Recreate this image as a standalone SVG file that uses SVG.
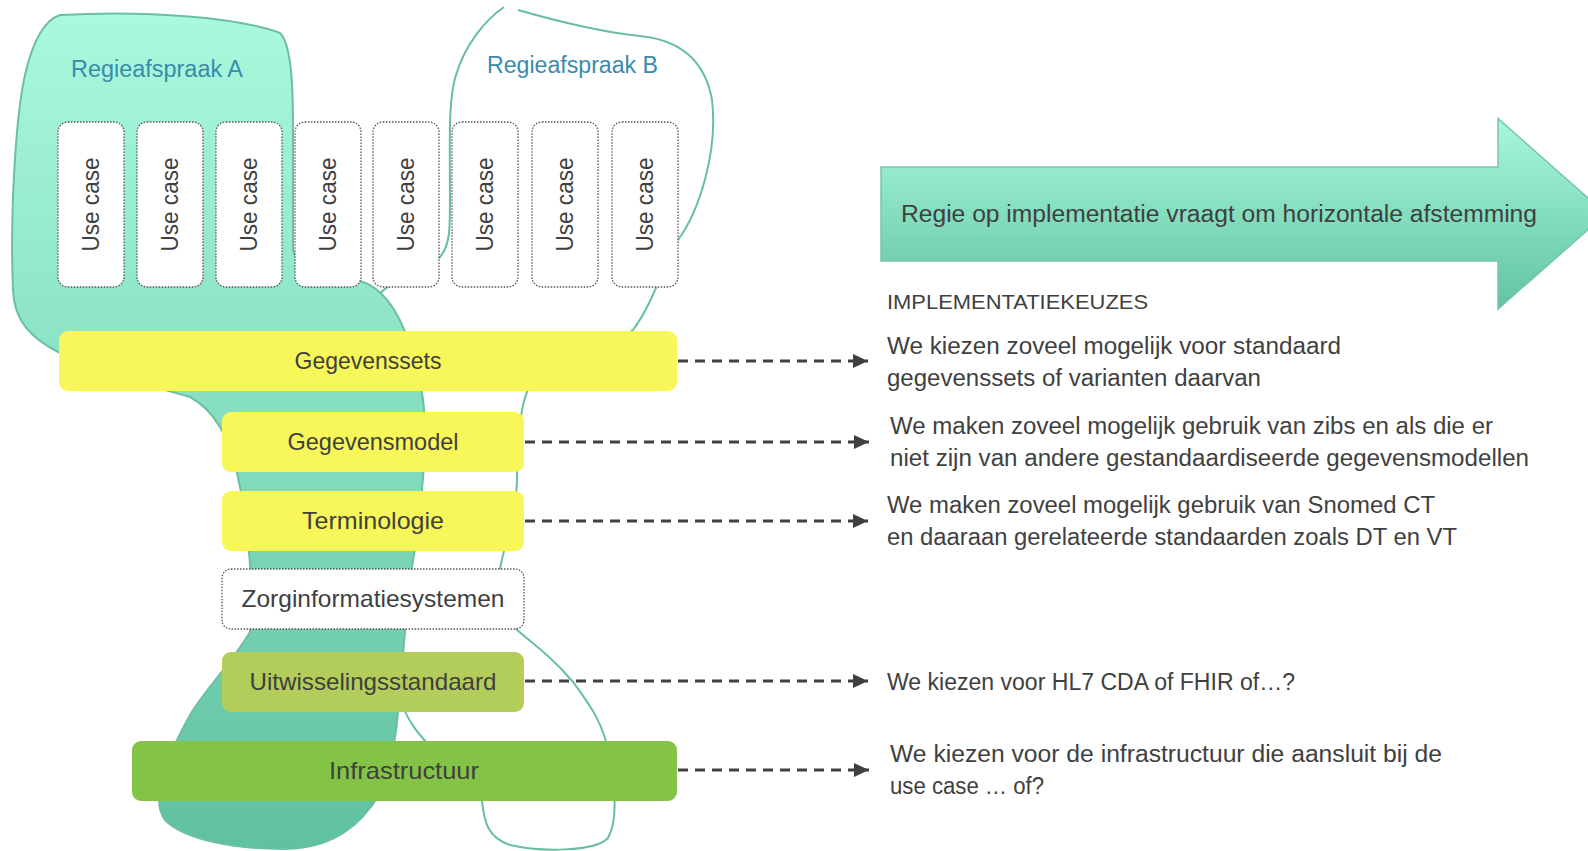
<svg xmlns="http://www.w3.org/2000/svg" width="1588" height="851" viewBox="0 0 1588 851">
<defs>
<linearGradient id="gA" x1="0" y1="15" x2="0" y2="850" gradientUnits="userSpaceOnUse">
<stop offset="0" stop-color="#aaf9dd"/>
<stop offset="1" stop-color="#5fc1a1"/>
</linearGradient>
<linearGradient id="gArrow" x1="0" y1="118" x2="0" y2="309" gradientUnits="userSpaceOnUse">
<stop offset="0" stop-color="#a8f8dc"/>
<stop offset="1" stop-color="#62c3a3"/>
</linearGradient>
<marker id="ah" markerUnits="userSpaceOnUse" markerWidth="16" markerHeight="16" refX="15" refY="8" orient="auto">
<path d="M0,1 L15,8 L0,15 Z" fill="#404040"/>
</marker>
<style>
text{font-family:"Liberation Sans",Arial,sans-serif;fill:#404040}
.uc rect{fill:#fff;stroke:#555;stroke-width:1.3;stroke-dasharray:1.5 1.5}
.uc text{font-size:23px;text-anchor:middle}
.bar text{font-size:24px;text-anchor:middle}
.title{fill:#3a8bac;font-size:23px}
.desc{font-size:23px}
.conn line{stroke:#404040;stroke-width:3;stroke-dasharray:10 7;marker-end:url(#ah)}
</style>
</defs>
<rect width="1588" height="851" fill="#fff"/>

<g id="regie-b">
<path d="M518,10 C560,22 600,32 640,36 C680,40 705,60 712,100 C718,150 700,210 678,240 C665,260 655,300 633,330 C590,360 530,370 527,392 C520,410 517,440 517,480 C516,520 505,540 500,569 C495,600 505,620 517,630 C535,645 555,660 573,682 C590,705 605,725 610,760 C615,790 618,820 608,838 C595,852 540,852 510,845 C480,835 485,810 480,790 C470,770 440,755 427,743 C415,730 408,720 400,700 C390,600 380,400 378,296 C383,288 395,282 410,276 C425,270 435,262 440,257 C450,245 450,230 450,200 C450,140 448,100 456,75 C465,45 485,20 504,7" fill="none" stroke="#68bfa0" stroke-width="2"/>
<text class="title" x="487" y="73" textLength="171" lengthAdjust="spacingAndGlyphs">Regieafspraak B</text>
</g>

<g id="regie-a">
<path d="M60,15 C150,10 240,18 280,33 C292,45 293,90 293,130 L293,250 C300,272 330,280 360,281 C385,288 400,315 410,345 C422,380 426,410 425,440 C424,480 418,530 412,567 C407,610 402,660 398,712 C395,750 385,790 370,808 C350,835 320,849 285,849 C235,849 185,840 165,820 C150,800 165,760 190,715 C205,690 230,665 250,632 C255,600 248,520 237,473 C230,440 215,410 190,397 C160,388 110,378 60,353 C30,338 14,320 13,290 C10,220 15,120 25,75 C33,40 45,20 60,15 Z" fill="url(#gA)" stroke="#6cbfa0" stroke-width="2"/>
<text class="title" x="71" y="77" textLength="172" lengthAdjust="spacingAndGlyphs">Regieafspraak A</text>
</g>

<g id="usecases" class="uc">
<g id="uc1"><rect x="58" y="122" width="66" height="165" rx="10"/><text transform="translate(91,204.5) rotate(-90)" x="0" y="8" textLength="94" lengthAdjust="spacingAndGlyphs">Use case</text></g>
<g id="uc2"><rect x="137" y="122" width="66" height="165" rx="10"/><text transform="translate(170,204.5) rotate(-90)" x="0" y="8" textLength="94" lengthAdjust="spacingAndGlyphs">Use case</text></g>
<g id="uc3"><rect x="216" y="122" width="66" height="165" rx="10"/><text transform="translate(249,204.5) rotate(-90)" x="0" y="8" textLength="94" lengthAdjust="spacingAndGlyphs">Use case</text></g>
<g id="uc4"><rect x="295" y="122" width="66" height="165" rx="10"/><text transform="translate(328,204.5) rotate(-90)" x="0" y="8" textLength="94" lengthAdjust="spacingAndGlyphs">Use case</text></g>
<g id="uc5"><rect x="373" y="122" width="66" height="165" rx="10"/><text transform="translate(406,204.5) rotate(-90)" x="0" y="8" textLength="94" lengthAdjust="spacingAndGlyphs">Use case</text></g>
<g id="uc6"><rect x="452" y="122" width="66" height="165" rx="10"/><text transform="translate(485,204.5) rotate(-90)" x="0" y="8" textLength="94" lengthAdjust="spacingAndGlyphs">Use case</text></g>
<g id="uc7"><rect x="532" y="122" width="66" height="165" rx="10"/><text transform="translate(565,204.5) rotate(-90)" x="0" y="8" textLength="94" lengthAdjust="spacingAndGlyphs">Use case</text></g>
<g id="uc8"><rect x="612" y="122" width="66" height="165" rx="10"/><text transform="translate(645,204.5) rotate(-90)" x="0" y="8" textLength="94" lengthAdjust="spacingAndGlyphs">Use case</text></g>
</g>

<g id="gegevenssets" class="bar"><rect x="59" y="331" width="618" height="60" rx="9" fill="#f8f75a"/><text x="368" y="369" textLength="147" lengthAdjust="spacingAndGlyphs">Gegevenssets</text></g>
<g id="gegevensmodel" class="bar"><rect x="222" y="412" width="302" height="60" rx="9" fill="#f8f75a"/><text x="373" y="450" textLength="171" lengthAdjust="spacingAndGlyphs">Gegevensmodel</text></g>
<g id="terminologie" class="bar"><rect x="222" y="491" width="302" height="60" rx="9" fill="#f8f75a"/><text x="373" y="529" textLength="142" lengthAdjust="spacingAndGlyphs">Terminologie</text></g>
<g id="zorginformatiesystemen" class="bar"><rect x="222" y="569" width="302" height="60" rx="9" fill="#fff" stroke="#555" stroke-width="1.3" stroke-dasharray="1.5 1.5"/><text x="373" y="607" textLength="263" lengthAdjust="spacingAndGlyphs">Zorginformatiesystemen</text></g>
<g id="uitwisselingsstandaard" class="bar"><rect x="222" y="652" width="302" height="60" rx="9" fill="#b2cd59"/><text x="373" y="690" textLength="247" lengthAdjust="spacingAndGlyphs">Uitwisselingsstandaard</text></g>
<g id="infrastructuur" class="bar"><rect x="132" y="741" width="545" height="60" rx="9" fill="#83c447"/><text x="404" y="779" textLength="150" lengthAdjust="spacingAndGlyphs">Infrastructuur</text></g>

<g id="horizontal-arrow">
<polygon points="881,167 1498,167 1498,118.5 1606,214 1498,309 1498,261 881,261" fill="url(#gArrow)" stroke="#78c6aa" stroke-width="1.5"/>
<text x="901" y="222" font-size="23" textLength="636" lengthAdjust="spacingAndGlyphs">Regie op implementatie vraagt om horizontale afstemming</text>
</g>

<g id="connectors" class="conn">
<line x1="678" y1="361" x2="868" y2="361"/>
<line x1="525" y1="442" x2="869" y2="442"/>
<line x1="525" y1="521" x2="868" y2="521"/>
<line x1="525" y1="681" x2="868" y2="681"/>
<line x1="678" y1="770" x2="869" y2="770"/>
</g>

<g id="keuzes">
<text x="887" y="309" font-size="21" textLength="261" lengthAdjust="spacingAndGlyphs">IMPLEMENTATIEKEUZES</text>
<text class="desc" x="887" y="354" textLength="454" lengthAdjust="spacingAndGlyphs">We kiezen zoveel mogelijk voor standaard</text>
<text class="desc" x="887" y="386" textLength="374" lengthAdjust="spacingAndGlyphs">gegevenssets of varianten daarvan</text>
<text class="desc" x="890" y="434" textLength="603" lengthAdjust="spacingAndGlyphs">We maken zoveel mogelijk gebruik van zibs en als die er</text>
<text class="desc" x="890" y="466" textLength="639" lengthAdjust="spacingAndGlyphs">niet zijn van andere gestandaardiseerde gegevensmodellen</text>
<text class="desc" x="887" y="513" textLength="548" lengthAdjust="spacingAndGlyphs">We maken zoveel mogelijk gebruik van Snomed CT</text>
<text class="desc" x="887" y="545" textLength="570" lengthAdjust="spacingAndGlyphs">en daaraan gerelateerde standaarden zoals DT en VT</text>
<text class="desc" x="887" y="690" textLength="408" lengthAdjust="spacingAndGlyphs">We kiezen voor HL7 CDA of FHIR of…?</text>
<text class="desc" x="890" y="762" textLength="552" lengthAdjust="spacingAndGlyphs">We kiezen voor de infrastructuur die aansluit bij de</text>
<text class="desc" x="890" y="794" textLength="154" lengthAdjust="spacingAndGlyphs">use case … of?</text>
</g>
</svg>
